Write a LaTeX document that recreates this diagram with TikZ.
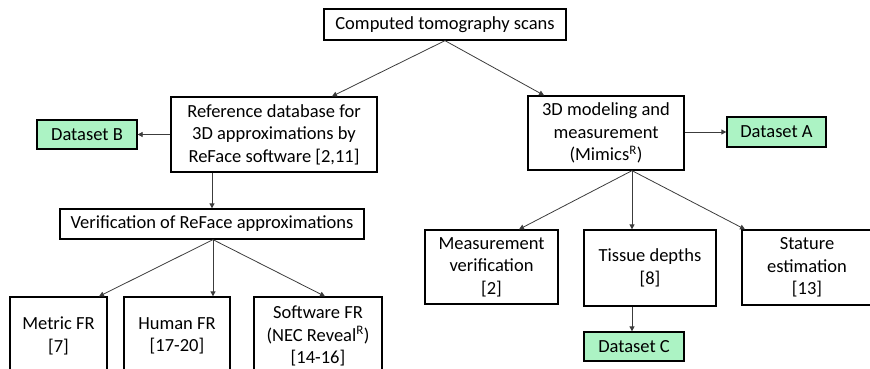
\documentclass[tikz,border=0pt]{standalone}
\usepackage{fontspec}
\setmainfont{Carlito}
\usetikzlibrary{arrows.meta,calc}
\definecolor{dsgreen}{RGB}{172,243,196}
\definecolor{linkgray}{RGB}{60,60,60}
\begin{document}
\begin{tikzpicture}[x=1pt,y=-1pt,
  box/.style={draw=black,line width=1.3pt,fill=white,inner sep=0pt,align=center,
    font=\fontsize{18.5}{22.5}\selectfont},
  dataset/.style={box,fill=dsgreen},
  link/.style={draw=linkgray,line width=0.8pt,-{Triangle[length=5pt,width=5pt]}}]
\useasboundingbox (0,0) rectangle (870,369);
\clip (0,0) rectangle (870,369);

% top source box
\node[box,minimum width=242pt,minimum height=31pt] (ct) at (445,24.5) {Computed tomography scans};

% left branch
\node[box,minimum width=206pt,minimum height=75pt] (ref) at (274,134.5)
  {Reference database for\\3D approximations by\\ReFace software [2,11]};
\node[dataset,minimum width=100pt,minimum height=29pt] (dsB) at (87,134.5) {Dataset B};
\node[box,minimum width=304pt,minimum height=30pt] (ver) at (212,224) {Verification of ReFace approximations};
\node[box,minimum width=97pt,minimum height=78pt] (metric) at (58.5,336) {Metric FR\\{}[7]};
\node[box,minimum width=106pt,minimum height=78pt] (human) at (177,336) {Human FR\\{}[17-20]};
\node[box,minimum width=128pt,minimum height=78pt] (soft) at (318,336)
  {Software FR\\(NEC Reveal\textsuperscript{R})\\{}[14-16]};

% right branch
\node[box,minimum width=156pt,minimum height=74pt] (mim) at (606,133)
  {3D modeling and\\measurement\\(Mimics\textsuperscript{R})};
\node[dataset,minimum width=99pt,minimum height=30pt] (dsA) at (776.5,132) {Dataset A};
\node[box,minimum width=133pt,minimum height=74pt] (meas) at (491.5,267)
  {Measurement\\verification\\{}[2]};
\node[box,minimum width=132pt,minimum height=76pt] (tis) at (650,268) {Tissue depths\\{}[8]};
\node[box,minimum width=130pt,minimum height=75pt] (stat) at (807,267.5)
  {Stature\\estimation\\{}[13]};
\node[dataset,minimum width=100pt,minimum height=29pt] (dsC) at (634,346.5) {Dataset C};

% connection points on box edges
\coordinate (ctout) at (ct.south);
\coordinate (refin) at ($(ref.north)+(58,0)$);
\coordinate (mimin) at ($(mim.north)+(-62,0)$);
\coordinate (refout) at ($(ref.south)+(-62,0)$);
\coordinate (verout) at ($(ver.south)+(1,0)$);
\coordinate (metin) at ($(metric.north)+(40.5,0)$);
\coordinate (humin) at ($(human.north)+(36,0)$);
\coordinate (softin) at ($(soft.north)+(7,0)$);
\coordinate (mimout) at ($(mim.south)+(26,0)$);
\coordinate (measin) at ($(meas.north)+(27.5,0)$);
\coordinate (tisin) at ($(tis.north)+(-18,0)$);
\coordinate (statin) at ($(stat.north)+(-62,0)$);
\coordinate (tisout) at ($(tis.south)+(-18,0)$);

% connectors
\draw[link] (ctout) -- (refin);
\draw[link] (ctout) -- (mimin);
\draw[link] (ref.west) -- (dsB.east);
\draw[link] (refout) -- (refout |- ver.north);
\draw[link] (verout) -- (metin);
\draw[link] (verout) -- (humin);
\draw[link] (verout) -- (softin);
\draw[link] (mim.east |- dsA.west) -- (dsA.west);
\draw[link] (mimout) -- (measin);
\draw[link] (mimout) -- (tisin);
\draw[link] (mimout) -- (statin);
\draw[link] (tisout) -- (tisout |- dsC.north);
\end{tikzpicture}
\end{document}
